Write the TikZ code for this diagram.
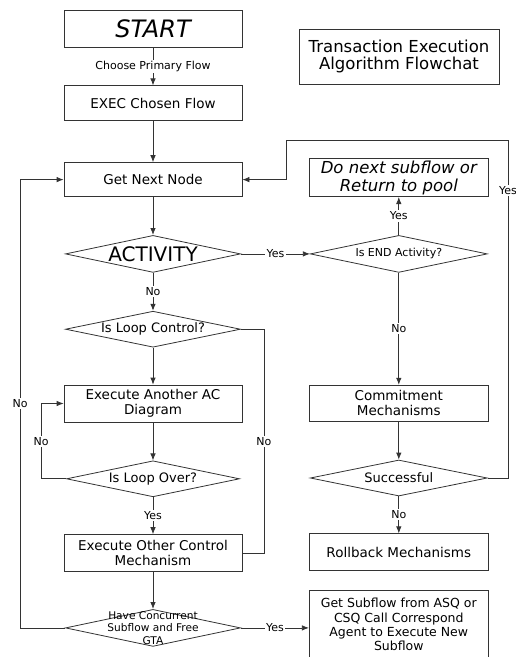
\documentclass[tikz,border=0pt]{standalone}
\usepackage{fontspec}
\setmainfont{DejaVu Sans}
\usetikzlibrary{shapes.geometric, arrows.meta, positioning}

\begin{document}
\begin{tikzpicture}[
        x=1pt, y=-1pt,
        proc/.style={rectangle, draw=black!80, line width=0.8pt, minimum width=178pt, minimum height=37pt, align=center, inner sep=2pt, font=\fontsize{13.5}{15}\selectfont},
        decision/.style={diamond, draw=black!80, line width=0.8pt, inner sep=0pt, minimum width=175pt, minimum height=37pt},
        dtext/.style={font=\fontsize{13}{15}\selectfont},
        lab/.style={fill=white, inner sep=1.5pt, font=\fontsize{11}{12}\selectfont},
        arr/.style={-{Latex[length=7pt, width=5.5pt]}, line width=0.8pt, draw=black!80},
        conn/.style={line width=0.8pt, draw=black!80}
    ]
    \useasboundingbox (0,0) rectangle (516,657);

    % main column
    \node[proc, font=\itshape\fontsize{24}{26}\selectfont] (start) at (153,28.5) {START};
    \node[proc, minimum height=35pt, below=38pt of start] (exec) {EXEC Chosen Flow};
    \node[proc, minimum height=34pt, below=41pt of exec] (getnext) {Get Next Node};
    \node[decision, below=38pt of getnext, label={[font=\fontsize{20}{22}\selectfont]center:ACTIVITY}] (activity) {};
    \node[decision, minimum height=36pt, below=38pt of activity, label={[dtext]center:Is Loop Control?}] (loopctl) {};
    \node[proc, below=37pt of loopctl] (anotherac) {Execute Another AC\\Diagram};
    \node[decision, minimum width=173pt, minimum height=36pt, below=38pt of anotherac, label={[dtext]center:Is Loop Over?}] (loopover) {};
    \node[proc, below=37pt of loopover] (othercm) {Execute Other Control\\Mechanism};
    \node[decision, below=37pt of othercm, label={[align=center, font=\fontsize{10.6}{12.5}\selectfont]center:Have Concurrent\\Subflow and Free\\GTA}] (concurrent) {};

    % right column
    \node[decision, minimum width=177pt, right=69pt of activity, label={[font=\fontsize{11}{13}\selectfont]center:Is END Activity?}] (isend) {};
    \node[proc, minimum width=179pt, above=38pt of isend, font=\itshape\fontsize{16.5}{18}\selectfont] (donext) {Do next subflow or\\Return to pool};
    \node[proc, minimum width=179pt, minimum height=36pt, below=112pt of isend] (commit) {Commitment\\Mechanisms};
    \node[decision, minimum width=177pt, minimum height=36pt, below=38pt of commit, label={[dtext]center:Successful}] (successful) {};
    \node[proc, minimum width=179pt, below=37pt of successful] (rollback) {Rollback Mechanisms};
    \node[proc, minimum width=179pt, minimum height=68pt, below=19pt of rollback, font=\fontsize{12.5}{14.2}\selectfont] (getsub) {Get Subflow from ASQ or\\CSQ Call Correspond\\Agent to Execute New\\Subflow};

    \node[proc, minimum width=200pt, minimum height=55pt, font=\fontsize{16.5}{17.5}\selectfont] (title) at (399,56.5) {Transaction Execution\\Algorithm Flowchat};

    \coordinate (yestop) at (508,140);
    \coordinate (yesturn) at (286,140);

    \draw[arr] (start) -- node[lab] {Choose Primary Flow} (exec);
    \draw[arr] (exec) -- (getnext);
    \draw[arr] (getnext) -- (activity);
    \draw[arr] (activity) -- node[lab] {No} (loopctl);
    \draw[arr] (loopctl) -- (anotherac);
    \draw[arr] (anotherac) -- (loopover);
    \draw[arr] (loopover) -- node[lab] {Yes} (othercm);
    \draw[arr] (othercm) -- (concurrent);
    \draw[arr] (loopover.west) -- ++(-25,0) |- node[lab, pos=0.25] {No} (anotherac.west);
    \draw[arr] (concurrent.west) -- ++(-45,0) |- node[lab, pos=0.25] {No} (getnext.west);
    \draw[conn] (loopctl.east) -- ++(23,0) |- node[lab, pos=0.25] {No} (othercm.east);

    \draw[arr] (activity) -- node[lab] {Yes} (isend);
    \draw[arr] (isend) -- node[lab] {Yes} (donext);
    \draw[arr] (isend) -- node[lab] {No} (commit);
    \draw[arr] (commit) -- (successful);
    \draw[arr] (successful) -- node[lab] {No} (rollback);
    \draw[arr] (concurrent.east) -- node[lab] {Yes} (getsub.west |- concurrent.east);
    \draw[arr] (successful.east) -| node[lab, pos=0.925] {Yes} (yestop) -- (yesturn) |- (getnext.east);

\end{tikzpicture}
\end{document}
